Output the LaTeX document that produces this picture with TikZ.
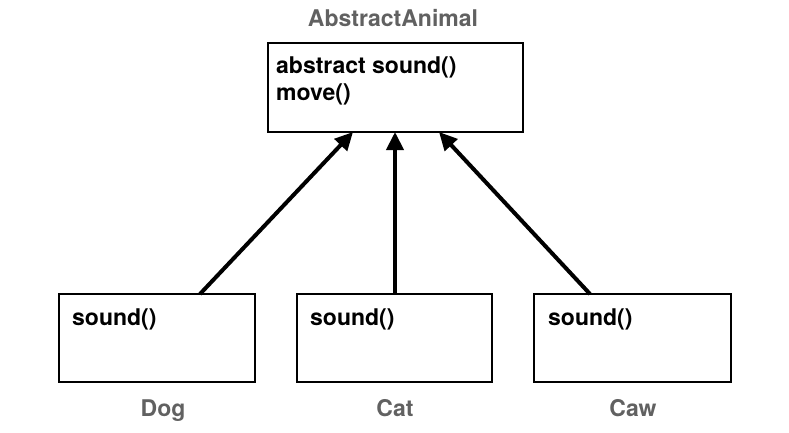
\documentclass[tikz,border=0pt]{standalone}
\usepackage{fontspec}
\setmainfont{TeX Gyre Heros}
\usetikzlibrary{arrows.meta}
\begin{document}
\begin{tikzpicture}[x=1pt,y=-1pt,
  box/.style={draw=black, line width=2pt, fill=white, inner sep=0pt},
  meth/.style={anchor=base west, inner sep=0pt, font=\fontsize{23}{27}\selectfont\bfseries},
  title/.style={anchor=base, inner sep=0pt, text=black!62, font=\fontsize{23}{27}\selectfont\bfseries},
  inh/.style={line width=4pt, -{Triangle[length=18pt,width=17pt]}}]
\useasboundingbox (0,0) rectangle (789,433);
% top box
\node[box, minimum width=255pt, minimum height=89pt] (abs) at (395.5,87.5) {};
\node[title] (absT) at (393,27) {AbstractAnimal};
\node[meth] (absM1) at (276,74) {abstract sound()};
\node[meth] (absM2) at (276,101) {move()};
% bottom boxes
\node[box, minimum width=196pt, minimum height=88pt] (dog) at (157,338) {};
\node[box, minimum width=195pt, minimum height=88pt] (cat) at (394.5,338) {};
\node[box, minimum width=197pt, minimum height=88pt] (caw) at (632.5,338) {};
\node[meth] (dogM) at (72,325) {sound()};
\node[meth] (catM) at (310,325) {sound()};
\node[meth] (cawM) at (548,325) {sound()};
\node[title] (dogT) at (163,416) {Dog};
\node[title] (catT) at (395,416) {Cat};
\node[title] (cawT) at (633,416) {Caw};
% arrows
\coordinate (dogA) at (200,294);
\coordinate (catA) at (395,294);
\coordinate (cawA) at (590,294);
\coordinate (absL) at (353,132);
\coordinate (absC) at (395,132);
\coordinate (absR) at (439,132);
\draw[inh] (dogA) -- (absL);
\draw[inh] (catA) -- (absC);
\draw[inh] (cawA) -- (absR);
\end{tikzpicture}
\end{document}
